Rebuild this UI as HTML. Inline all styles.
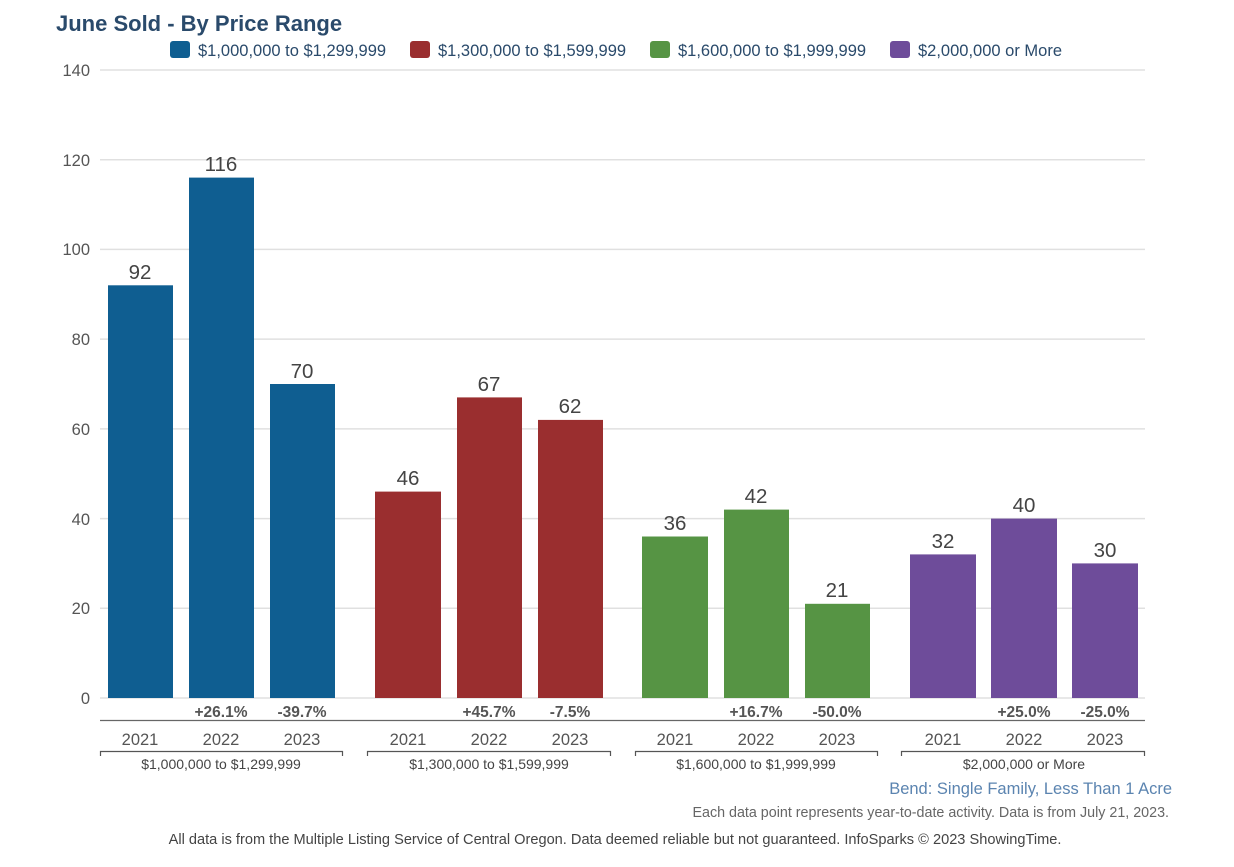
<!DOCTYPE html>
<html><head><meta charset="utf-8"><style>
body{margin:0;background:#fff;}
svg{display:block;font-family:"Liberation Sans",sans-serif;}
</style></head><body>
<svg width="1234" height="867" viewBox="0 0 1234 867" xmlns="http://www.w3.org/2000/svg">
<text x="56" y="31" font-size="22" font-weight="bold" fill="#2a4a6b">June Sold - By Price Range</text>
<g font-size="16.5" fill="#2a4a6b">
<rect x="170" y="41" width="20" height="17" rx="3" fill="#0f5e91"/><text x="198" y="56">$1,000,000 to $1,299,999</text>
<rect x="410" y="41" width="20" height="17" rx="3" fill="#9a2e2f"/><text x="438" y="56">$1,300,000 to $1,599,999</text>
<rect x="650" y="41" width="20" height="17" rx="3" fill="#569444"/><text x="678" y="56">$1,600,000 to $1,999,999</text>
<rect x="890" y="41" width="20" height="17" rx="3" fill="#6e4c9a"/><text x="918" y="56">$2,000,000 or More</text>
</g>
<g stroke="#e0e0e0" stroke-width="1.5">
<line x1="100" x2="1145" y1="70" y2="70"/><line x1="100" x2="1145" y1="159.7" y2="159.7"/>
<line x1="100" x2="1145" y1="249.4" y2="249.4"/><line x1="100" x2="1145" y1="339.1" y2="339.1"/>
<line x1="100" x2="1145" y1="428.9" y2="428.9"/><line x1="100" x2="1145" y1="518.6" y2="518.6"/>
<line x1="100" x2="1145" y1="608.3" y2="608.3"/><line x1="100" x2="1145" y1="698" y2="698"/>
</g>
<g font-size="16.5" fill="#555" text-anchor="end">
<text x="90" y="76">140</text><text x="90" y="166">120</text><text x="90" y="255">100</text>
<text x="90" y="345">80</text><text x="90" y="435">60</text><text x="90" y="525">40</text>
<text x="90" y="614">20</text><text x="90" y="704">0</text>
</g>
<g fill="#0f5e91"><rect x="108" y="285.3" width="65" height="412.7"/><rect x="189" y="177.6" width="65" height="520.4"/><rect x="270" y="384" width="65" height="314"/></g>
<g fill="#9a2e2f"><rect x="375" y="491.6" width="66" height="206.4"/><rect x="457" y="397.4" width="65" height="300.6"/><rect x="538" y="419.9" width="65" height="278.1"/></g>
<g fill="#569444"><rect x="642" y="536.5" width="66" height="161.5"/><rect x="724" y="509.6" width="65" height="188.4"/><rect x="805" y="603.8" width="65" height="94.2"/></g>
<g fill="#6e4c9a"><rect x="910" y="554.4" width="66" height="143.6"/><rect x="991" y="518.6" width="66" height="179.4"/><rect x="1072" y="563.4" width="66" height="134.6"/></g>
<g font-size="20.5" fill="#444" text-anchor="middle">
<text x="140" y="279">92</text><text x="221" y="171">116</text><text x="302" y="378">70</text>
<text x="408" y="485">46</text><text x="489" y="391">67</text><text x="570" y="413">62</text>
<text x="675" y="530">36</text><text x="756" y="503">42</text><text x="837" y="597">21</text>
<text x="943" y="548">32</text><text x="1024" y="512">40</text><text x="1105" y="557">30</text>
</g>
<g font-size="15.5" font-weight="bold" fill="#555" text-anchor="middle">
<text x="221" y="717">+26.1%</text><text x="302" y="717">-39.7%</text>
<text x="489" y="717">+45.7%</text><text x="570" y="717">-7.5%</text>
<text x="756" y="717">+16.7%</text><text x="837" y="717">-50.0%</text>
<text x="1024" y="717">+25.0%</text><text x="1105" y="717">-25.0%</text>
</g>
<line x1="100" x2="1145" y1="720.5" y2="720.5" stroke="#666" stroke-width="1.2"/>
<g font-size="16.5" fill="#555" text-anchor="middle">
<text x="140" y="745">2021</text><text x="221" y="745">2022</text><text x="302" y="745">2023</text>
<text x="408" y="745">2021</text><text x="489" y="745">2022</text><text x="570" y="745">2023</text>
<text x="675" y="745">2021</text><text x="756" y="745">2022</text><text x="837" y="745">2023</text>
<text x="943" y="745">2021</text><text x="1024" y="745">2022</text><text x="1105" y="745">2023</text>
</g>
<g stroke="#555" stroke-width="1.2" fill="none">
<path d="M100.5 756V751.5H342.5V756"/><path d="M367.5 756V751.5H610.5V756"/>
<path d="M635.5 756V751.5H877.5V756"/><path d="M901.5 756V751.5H1144.5V756"/>
</g>
<g font-size="14" fill="#444" text-anchor="middle">
<text x="221" y="769">$1,000,000 to $1,299,999</text><text x="489" y="769">$1,300,000 to $1,599,999</text>
<text x="756" y="769">$1,600,000 to $1,999,999</text><text x="1024" y="769">$2,000,000 or More</text>
</g>
<text x="1172" y="794" font-size="16.5" fill="#5b84b0" text-anchor="end">Bend: Single Family, Less Than 1 Acre</text>
<text x="1169" y="817" font-size="14.3" fill="#666" text-anchor="end">Each data point represents year-to-date activity. Data is from July 21, 2023.</text>
<text x="615" y="844" font-size="14.6" fill="#444" text-anchor="middle">All data is from the Multiple Listing Service of Central Oregon. Data deemed reliable but not guaranteed. InfoSparks © 2023 ShowingTime.</text>
</svg>
</body></html>
